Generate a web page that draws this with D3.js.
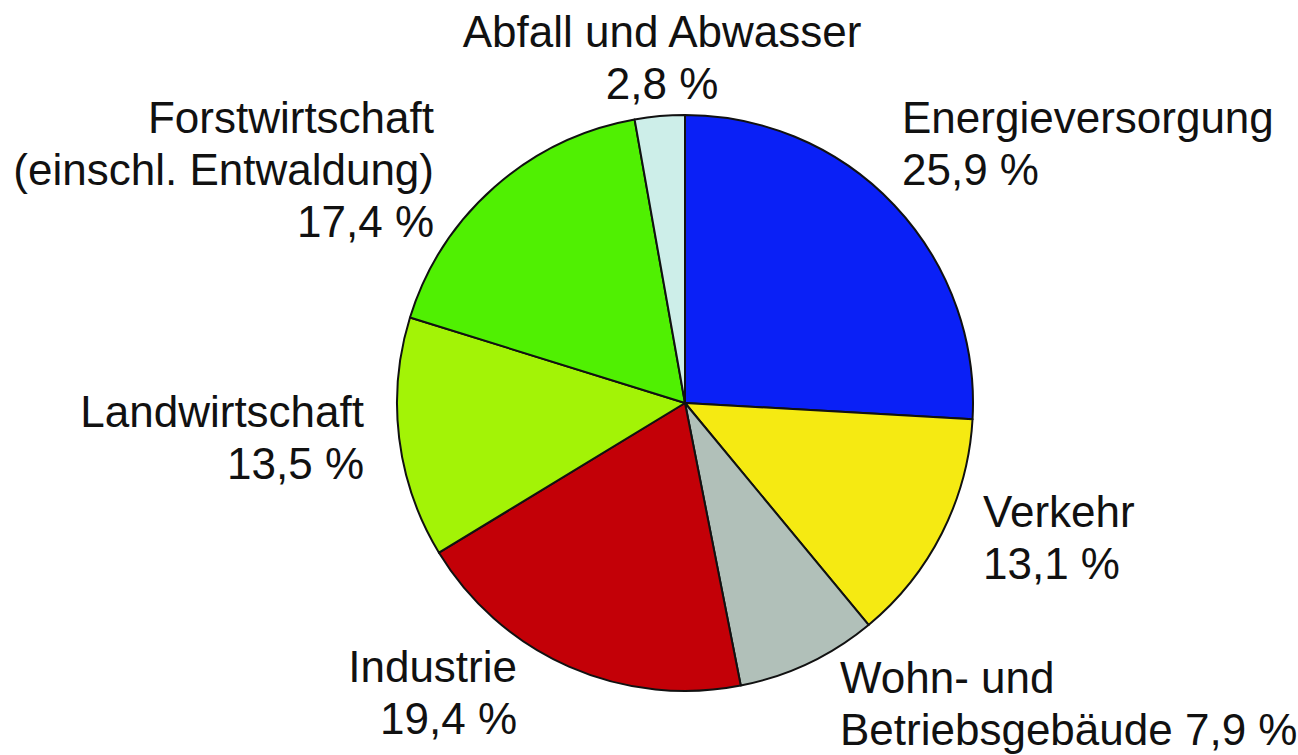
<!DOCTYPE html>
<html>
<head>
<meta charset="utf-8">
<script src="https://cdn.jsdelivr.net/npm/d3@7"></script>
<style>
  body { margin: 0; background: #fff; }
  text { font-family: "Liberation Sans", Arial, sans-serif; font-size: 44px; fill: #111; }
</style>
</head>
<body>
<svg id="chart" width="1298" height="755"></svg>
<script>
// Anteile der Treibhausgasemissionen nach Sektoren (im Uhrzeigersinn ab 12 Uhr)
var sectors = ["Energieversorgung", "Verkehr", "Wohn- und Betriebsgebäude", "Industrie",
               "Landwirtschaft", "Forstwirtschaft", "Abfall und Abwasser"];
var shares = [25.9, 13.1, 7.9, 19.4, 13.5, 17.4, 2.8];
var colors = ["#0a20f6", "#f5ea12", "#b1c0b9", "#c30007", "#a3f306", "#50f002", "#cdeee9"];

// label lines per sector
var labelLines = [
    ["Energieversorgung", "25,9 %"],
    ["Verkehr", "13,1 %"],
    ["Wohn- und", "Betriebsgebäude 7,9 %"],
    ["Industrie", "19,4 %"],
    ["Landwirtschaft", "13,5 %"],
    ["Forstwirtschaft", "(einschl. Entwaldung)", "17,4 %"],
    ["Abfall und Abwasser", "2,8 %"]
];

var svg = d3.select("#chart");
var cx = 685, cy = 403, radius = 288;

var pie = d3.pie().sort(null).value(function(d) { return d; });
var arc = d3.arc().innerRadius(0).outerRadius(radius);
var arcs = pie(shares);

var g = svg.append("g").attr("transform", "translate(" + cx + "," + cy + ")");

g.selectAll("path")
    .data(arcs)
    .enter().append("path")
    .attr("d", arc)
    .attr("fill", function(d, i) { return colors[i]; })
    .attr("stroke", "#111")
    .attr("stroke-width", 2)
    .attr("stroke-linejoin", "round");

// label anchors relative to pie centre (placement only)
var labelPos = [
    {x: 217, y: -270, anchor: "start"},
    {x: 298, y: 124, anchor: "start"},
    {x: 155, y: 290, anchor: "start"},
    {x: -168, y: 279, anchor: "end"},
    {x: -321, y: 24, anchor: "end"},
    {x: -251, y: -270, anchor: "end"},
    {x: -23, y: -356, anchor: "middle"}
];
var lineH = 52;

var labels = svg.append("g").attr("transform", "translate(" + cx + "," + cy + ")");
labels.selectAll("text")
    .data(arcs)
    .enter().append("text")
    .attr("text-anchor", function(d, i) { return labelPos[i].anchor; })
    .attr("transform", function(d, i) { return "translate(" + labelPos[i].x + "," + labelPos[i].y + ")"; })
    .each(function(d, i) {
        var t = d3.select(this);
        labelLines[i].forEach(function(line, k) {
            t.append("tspan").attr("x", 0).attr("y", k * lineH).text(line);
        });
    });
</script>
</body>
</html>
